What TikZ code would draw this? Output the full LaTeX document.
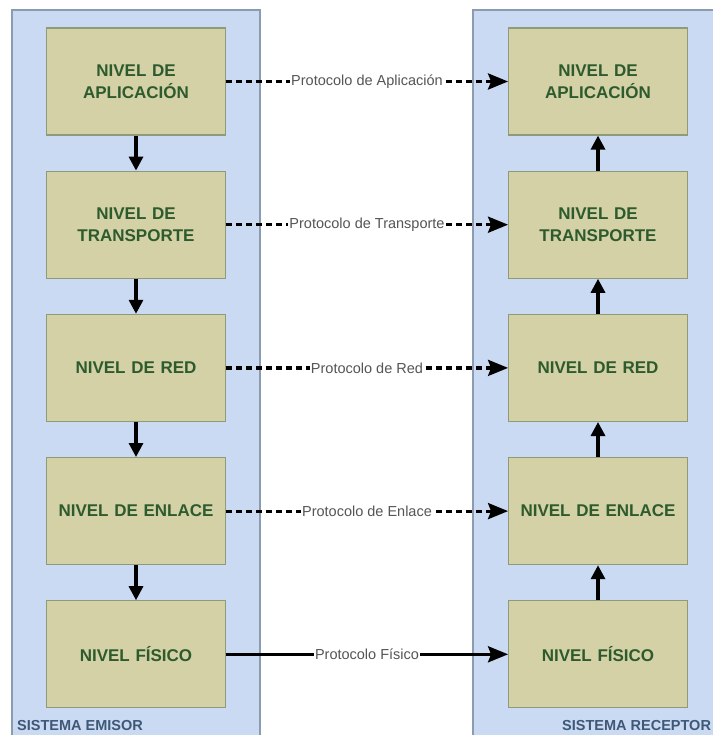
\documentclass[tikz,border=0pt]{standalone}
\usepackage{fontspec}
\setmainfont{Liberation Sans}
\usetikzlibrary{positioning,arrows.meta}
\definecolor{panel}{HTML}{CADAF2}
\definecolor{panelborde}{HTML}{8C9CB0}
\definecolor{caja}{HTML}{D3D1A5}
\definecolor{cajaborde}{HTML}{8F9B78}
\definecolor{textonivel}{HTML}{2E5B2E}
\definecolor{textosistema}{HTML}{3E5878}
\definecolor{textoprot}{HTML}{555555}

\begin{document}
\begin{tikzpicture}[x=1pt,y=-1pt,node distance=35pt,
        nivel/.style={draw=cajaborde,fill=caja,line width=1.2pt,
                      minimum width=178pt,minimum height=107pt,
                      text width=172pt,align=center,text=textonivel,
                      font=\fontsize{17}{22}\selectfont\bfseries},
        bajada/.style={line width=3.2pt,-{Triangle[length=14pt,width=14pt]}},
        protocolo/.style={line width=3.2pt,dash pattern=on 6pt off 4pt,
                          -{Stealth[length=20pt,width=16pt,inset=3pt]}},
        etiqueta/.style={fill=white,inner sep=1pt,text=textoprot,
                         font=\fontsize{14.5}{17}\selectfont},
        sistema/.style={anchor=base west,inner sep=0pt,text=textosistema,
                        font=\fontsize{14.5}{17}\selectfont\bfseries}]
        \useasboundingbox (0,0) rectangle (712,735);
        % paneles
        \draw[fill=panel,draw=panelborde,line width=1.5pt]
              (12,10)  rectangle (260,745)
              (473,10) rectangle (730,745);
        \node[sistema] (emisor)   at (17,730)  {SISTEMA EMISOR};
        \node[sistema] (receptor) at (562,730) {SISTEMA RECEPTOR};
        % sistema emisor
        \node[nivel] (emiApl) at (136,81.5) {NIVEL DE\\APLICACIÓN};
        \node[nivel,below=of emiApl] (emiTra) {NIVEL DE\\TRANSPORTE};
        \node[nivel,below=of emiTra] (emiRed) {NIVEL DE RED};
        \node[nivel,below=of emiRed] (emiEnl) {NIVEL DE ENLACE};
        \node[nivel,below=of emiEnl] (emiFis) {NIVEL FÍSICO};
        % sistema receptor
        \node[nivel] (recApl) at (598,81.5) {NIVEL DE\\APLICACIÓN};
        \node[nivel,below=of recApl] (recTra) {NIVEL DE\\TRANSPORTE};
        \node[nivel,below=of recTra] (recRed) {NIVEL DE RED};
        \node[nivel,below=of recRed] (recEnl) {NIVEL DE ENLACE};
        \node[nivel,below=of recEnl] (recFis) {NIVEL FÍSICO};
        % flujo vertical
        \draw[bajada] (emiApl) -- (emiTra);
        \draw[bajada] (emiTra) -- (emiRed);
        \draw[bajada] (emiRed) -- (emiEnl);
        \draw[bajada] (emiEnl) -- (emiFis);
        \draw[bajada] (recFis) -- (recEnl);
        \draw[bajada] (recEnl) -- (recRed);
        \draw[bajada] (recRed) -- (recTra);
        \draw[bajada] (recTra) -- (recApl);
        % protocolos
        \draw[protocolo] (emiApl) -- node[etiqueta] {Protocolo de Aplicación} (recApl);
        \draw[protocolo] (emiTra) -- node[etiqueta] {Protocolo de Transporte} (recTra);
        \draw[protocolo] (emiRed) -- node[etiqueta] {Protocolo de Red} (recRed);
        \draw[protocolo] (emiEnl) -- node[etiqueta] {Protocolo de Enlace} (recEnl);
        \draw[protocolo,solid] (emiFis) -- node[etiqueta] {Protocolo Físico} (recFis);
\end{tikzpicture}
\end{document}
